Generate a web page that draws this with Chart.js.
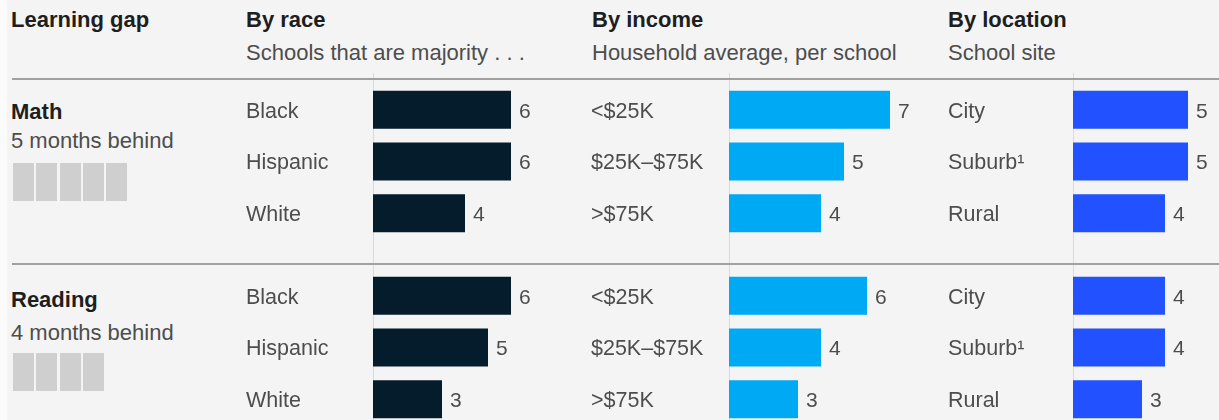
<!DOCTYPE html>
<html lang="en">
<head>
  <meta charset="UTF-8" />
  <title>Learning gap</title>
  <script src="https://cdn.jsdelivr.net/npm/chart.js"></script>
  <style>
    html, body { margin: 0; padding: 0; }
    body {
      width: 1219px; height: 420px; overflow: hidden; position: relative;
      background: #fbfbfb;
      font-family: "Liberation Sans", Arial, sans-serif;
    }
    #panel { position: absolute; left: 7px; top: 0; right: 0; bottom: 0; background: #f4f4f4; }
    .t { position: absolute; white-space: nowrap; line-height: 1; }
    .h { font-weight: bold; font-size: 22px; color: #1e1e1e; }
    .s { font-size: 22px; color: #4d4d4d; }
    .hline { position: absolute; left: 12px; right: 0; height: 2px; background: #a0a0a0; }
    .vline { position: absolute; top: 73px; bottom: 0; width: 1px; background: #dadada; }
    .box { position: absolute; width: 21px; height: 38px; background: #cfcfcf; }
    canvas { position: absolute; }
  </style>
</head>
<body>
  <div id="panel"></div>

  <!-- grid lines -->
  <div class="vline" style="left:373px"></div>
  <div class="vline" style="left:729px"></div>
  <div class="vline" style="left:1073px"></div>
  <div class="hline" style="top:78px"></div>
  <div class="hline" style="top:263px"></div>

  <!-- headers -->
  <div class="t h" style="left:11px; top:9px">Learning gap</div>
  <div class="t h" style="left:246px; top:9px">By race</div>
  <div class="t h" style="left:592px; top:9px">By income</div>
  <div class="t h" style="left:948px; top:9px">By location</div>
  <div class="t s" style="left:246px; top:42px">Schools that are majority . . .</div>
  <div class="t s" style="left:592px; top:42px">Household average, per school</div>
  <div class="t s" style="left:948px; top:42px">School site</div>

  <!-- row titles -->
  <div class="t h" style="left:11px; top:101px">Math</div>
  <div class="t s" style="left:11px; top:130px" id="mathSub"></div>
  <div class="t h" style="left:11px; top:289px">Reading</div>
  <div class="t s" style="left:11px; top:322px" id="readSub"></div>

  <canvas id="mathRace" width="334" height="155" style="left:246px; top:84px"></canvas>
  <canvas id="mathIncome" width="345" height="155" style="left:591px; top:84px"></canvas>
  <canvas id="mathLocation" width="263" height="155" style="left:948px; top:84px"></canvas>
  <canvas id="readRace" width="334" height="155" style="left:246px; top:270px"></canvas>
  <canvas id="readIncome" width="345" height="155" style="left:591px; top:270px"></canvas>
  <canvas id="readLocation" width="263" height="155" style="left:948px; top:270px"></canvas>

<script>
  // Categories
  const raceLabels = ['Black', 'Hispanic', 'White'];
  const incomeLabels = ['<$25K', '$25K–$75K', '>$75K'];
  const locationLabels = ['City', 'Suburb\u00B9', 'Rural'];

  // Months behind, per group
  const mathRace = [6, 6, 4];
  const mathIncome = [7, 5, 4];
  const mathLocation = [5, 5, 4];
  const readRace = [6, 5, 3];
  const readIncome = [6, 4, 3];
  const readLocation = [4, 4, 3];

  // Overall gap (months)
  const mathGap = 5;
  const readGap = 4;

  const raceColor = '#051c2c';
  const incomeColor = '#00a9f4';
  const locationColor = '#2251ff';

  Chart.defaults.font.family = '"Liberation Sans", Arial, sans-serif';

  // month squares + subtitles
  function drawGap(months, top, subId) {
    document.getElementById(subId).textContent = months + ' months behind';
    for (let i = 0; i < months; i++) {
      const b = document.createElement('div');
      b.className = 'box';
      b.style.left = (13 + i * 23.3) + 'px';
      b.style.top = top + 'px';
      document.body.appendChild(b);
    }
  }
  drawGap(mathGap, 163, 'mathSub');
  drawGap(readGap, 353, 'readSub');

  // value labels to the right of the bars
  const valueLabels = {
    id: 'valueLabels',
    afterDatasetsDraw(chart) {
      const ctx = chart.ctx;
      const meta = chart.getDatasetMeta(0);
      const data = chart.data.datasets[0].data;
      ctx.save();
      ctx.font = '21px "Liberation Sans", Arial, sans-serif';
      ctx.fillStyle = '#4d4d4d';
      ctx.textAlign = 'left';
      ctx.textBaseline = 'middle';
      meta.data.forEach((bar, i) => {
        ctx.fillText(data[i], bar.x + 8, bar.y + 2);
      });
      ctx.restore();
    }
  };

  function makeChart(id, labels, values, color, labelWidth, max) {
    return new Chart(document.getElementById(id), {
      type: 'bar',
      data: {
        labels: labels,
        datasets: [{
          data: values,
          backgroundColor: color,
          borderWidth: 0,
          barPercentage: 0.735,
          categoryPercentage: 1
        }]
      },
      options: {
        indexAxis: 'y',
        responsive: false,
        animation: false,
        layout: { padding: 0 },
        plugins: { legend: { display: false }, tooltip: { enabled: false } },
        scales: {
          x: { display: false, min: 0, max: max },
          y: {
            grid: { display: false },
            border: { display: false },
            ticks: {
              color: '#4d4d4d',
              font: { size: 21.5 },
              crossAlign: 'far',
              padding: 0,
              labelOffset: 2
            },
            afterFit(scale) {
              scale.width = labelWidth;
              scale.paddingTop = 0;
              scale.paddingBottom = 0;
            }
          }
        }
      },
      plugins: [valueLabels]
    });
  }

  makeChart('mathRace', raceLabels, mathRace, raceColor, 127, 9);
  makeChart('mathIncome', incomeLabels, mathIncome, incomeColor, 138, 9);
  makeChart('mathLocation', locationLabels, mathLocation, locationColor, 125, 6);
  makeChart('readRace', raceLabels, readRace, raceColor, 127, 9);
  makeChart('readIncome', incomeLabels, readIncome, incomeColor, 138, 9);
  makeChart('readLocation', locationLabels, readLocation, locationColor, 125, 6);
</script>
</body>
</html>
